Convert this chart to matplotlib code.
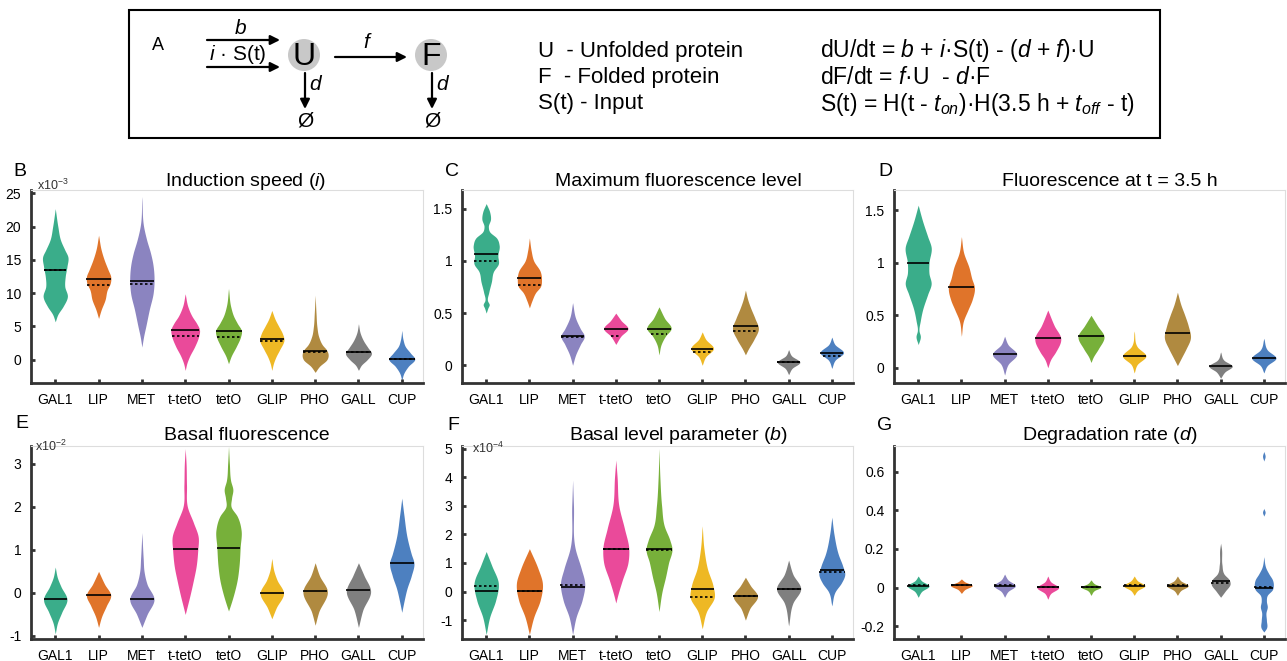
import numpy as np
import matplotlib
matplotlib.use('Agg')
import matplotlib.pyplot as plt
from matplotlib.patches import Circle, Rectangle

plt.rcParams['font.family'] = ['Liberation Sans', 'DejaVu Sans']
plt.rcParams['mathtext.fontset'] = 'custom'
plt.rcParams['mathtext.rm'] = 'Liberation Sans'
plt.rcParams['mathtext.it'] = 'Liberation Sans:italic'

promoters = ['GAL1', 'LIP', 'MET', 't-tetO', 'tetO', 'GLIP', 'PHO', 'GALL', 'CUP']
colors = ['#3aad8a', '#e0742a', '#8b84c0', '#ea4a9a', '#77b03a',
          '#eeb824', '#b08a40', '#7f7f7f', '#4d80c0']

# violin outlines: (value, half width) knots
induction_prof = [
    [(5.7, 0), (6.8, .06), (8, .18), (9.5, .28), (11, .22), (12.5, .23), (14, .27), (15.5, .29), (16.5, .22), (18, .12), (20, .06), (22.7, 0)],
    [(6.2, 0), (7.5, .06), (9, .15), (10.5, .2), (11.5, .27), (12.5, .28), (13.5, .22), (15, .13), (16.5, .06), (18.7, 0)],
    [(1.9, 0), (3.5, .04), (5, .09), (7.5, .17), (10, .26), (12.5, .28), (14.5, .25), (16, .2), (18, .11), (20, .04), (24.5, 0)],
    [(-1.6, 0), (-0.5, .04), (0.5, .1), (2, .22), (3.5, .31), (4.5, .33), (5.5, .26), (6.5, .16), (8, .06), (9.9, 0)],
    [(-0.6, 0), (0.5, .06), (2, .18), (3.5, .28), (4.3, .3), (5.5, .2), (6.5, .12), (8, .05), (10.7, 0)],
    [(-1.6, 0), (-0.5, .04), (0.5, .1), (1.5, .18), (3, .28), (4, .24), (5, .16), (6, .08), (7.4, 0)],
    [(-1.9, 0), (-1, .1), (0, .27), (0.8, .3), (1.5, .26), (2.2, .17), (3.5, .08), (5, .04), (7, .02), (9.7, 0)],
    [(-1.6, 0), (-0.8, .07), (0, .2), (1, .3), (1.8, .22), (2.8, .12), (4, .04), (5.4, 0)],
    [(-3.1, 0), (-2, .05), (-1, .15), (0.1, .3), (1, .2), (2, .08), (3, .03), (4.4, 0)],
]
induction_mean = [13.5, 12.1, 11.8, 4.5, 4.3, 3.1, 1.3, 1.2, 0.1]
induction_median = [13.5, 11.3, 11.4, 3.6, 3.4, 2.8, 1.1, 1.1, 0.1]

maxfl_prof = [
    [(0.5, 0), (0.55, .04), (0.58, .07), (0.62, .03), (0.7, .06), (0.8, .12), (0.9, .17), (0.97, .28), (1.05, .27), (1.15, .3), (1.22, .24), (1.28, .08), (1.33, .05), (1.4, .1), (1.47, .08), (1.55, 0)],
    [(0.55, 0), (0.62, .06), (0.7, .15), (0.75, .25), (0.82, .28), (0.9, .25), (1.0, .1), (1.1, .04), (1.22, 0)],
    [(0.0, 0), (0.1, .07), (0.2, .18), (0.28, .27), (0.35, .18), (0.45, .07), (0.6, 0)],
    [(0.2, 0), (0.28, .12), (0.35, .28), (0.43, .12), (0.5, 0)],
    [(0.1, 0), (0.2, .05), (0.28, .15), (0.35, .28), (0.45, .13), (0.56, 0)],
    [(0.0, 0), (0.08, .08), (0.16, .26), (0.25, .08), (0.32, 0)],
    [(0.1, 0), (0.15, .06), (0.25, .2), (0.35, .3), (0.45, .22), (0.55, .12), (0.62, .06), (0.72, 0)],
    [(-0.09, 0), (-0.03, .08), (0.03, .26), (0.09, .07), (0.15, 0)],
    [(-0.03, 0), (0.05, .08), (0.12, .27), (0.2, .07), (0.27, 0)],
]
maxfl_mean = [1.07, 0.84, 0.28, 0.35, 0.35, 0.16, 0.38, 0.03, 0.12]
maxfl_median = [1.0, 0.77, 0.27, 0.28, 0.3, 0.13, 0.33, 0.03, 0.09]

fl35_prof = [
    [(0.22, 0), (0.3, .05), (0.35, .02), (0.45, .05), (0.55, .1), (0.7, .22), (0.8, .3), (0.9, .25), (1.0, .25), (1.15, .3), (1.25, .22), (1.4, .1), (1.55, 0)],
    [(0.3, 0), (0.45, .05), (0.55, .15), (0.65, .25), (0.77, .3), (0.85, .24), (0.95, .18), (1.1, .05), (1.25, 0)],
    [(-0.07, 0), (0.03, .08), (0.13, .28), (0.22, .08), (0.3, 0)],
    [(0.0, 0), (0.08, .07), (0.15, .18), (0.28, .3), (0.4, .15), (0.55, 0)],
    [(0.05, 0), (0.1, .05), (0.18, .17), (0.3, .3), (0.4, .15), (0.5, 0)],
    [(-0.05, 0), (0.03, .07), (0.11, .27), (0.2, .07), (0.35, 0)],
    [(0.02, 0), (0.1, .1), (0.18, .2), (0.28, .3), (0.4, .25), (0.5, .17), (0.6, .08), (0.72, 0)],
    [(-0.1, 0), (-0.04, .1), (0.015, .27), (0.07, .08), (0.15, 0)],
    [(-0.05, 0), (0.02, .08), (0.09, .28), (0.17, .08), (0.28, 0)],
]
fl35_mean = [1.0, 0.77, 0.13, 0.28, 0.3, 0.11, 0.33, 0.015, 0.09]
fl35_median = [None] * 9

basalfl_prof = [
    [(-0.95, 0), (-0.7, .05), (-0.45, .15), (-0.15, .27), (0.15, .13), (0.35, .05), (0.6, 0)],
    [(-0.8, 0), (-0.55, .07), (-0.3, .18), (-0.05, .28), (0.2, .14), (0.5, 0)],
    [(-0.8, 0), (-0.5, .12), (-0.15, .28), (0.2, .12), (0.5, .05), (0.8, .03), (1.4, 0)],
    [(-0.5, 0), (-0.3, .05), (-0.1, .1), (0.3, .19), (0.6, .25), (1.0, .29), (1.3, .3), (1.63, .19), (2.0, .05), (2.5, .03), (3.0, .02), (3.35, 0)],
    [(-0.42, 0), (-0.3, .04), (0, .13), (0.3, .2), (0.6, .24), (1.07, .27), (1.46, .29), (1.78, .2), (2.0, .06), (2.2, .07), (2.4, .1), (2.6, .05), (3.0, .02), (3.4, 0)],
    [(-0.6, 0), (-0.35, .1), (0.0, .27), (0.3, .12), (0.5, .05), (0.8, 0)],
    [(-0.75, 0), (-0.45, .08), (0.05, .28), (0.4, .1), (0.7, 0)],
    [(-0.8, 0), (-0.4, .1), (0.05, .28), (0.4, .13), (0.7, 0)],
    [(-0.45, 0), (-0.2, .05), (0.1, .12), (0.4, .22), (0.7, .28), (0.9, .22), (1.3, .12), (1.8, .05), (2.2, 0)],
]
basalfl_mean = [-0.15, -0.06, -0.15, 1.03, 1.05, 0.0, 0.04, 0.07, 0.7]
basalfl_median = [None] * 9

basalpar_prof = [
    [(-1.5, 0), (-0.9, .08), (-0.3, .22), (0.3, .28), (0.9, .13), (1.4, 0)],
    [(-1.5, 0), (-0.9, .1), (-0.3, .25), (0.3, .3), (0.8, .2), (1.5, 0)],
    [(-1.5, 0), (-0.9, .08), (-0.3, .22), (0.3, .28), (0.8, .2), (1.5, .06), (3, .02), (3.9, 0)],
    [(-0.4, 0), (-0.1, .05), (0.4, .15), (1.0, .28), (1.5, .3), (2.2, .2), (3, .07), (4, .03), (4.6, 0)],
    [(-0.7, 0), (0, .07), (0.5, .15), (1.0, .22), (1.5, .3), (1.8, .25), (2.3, .12), (3, .06), (4, .02), (5, 0)],
    [(-1.3, 0), (-0.7, .1), (-0.2, .28), (0.2, .25), (0.8, .12), (1.5, .04), (2.3, 0)],
    [(-1.0, 0), (-0.6, .1), (-0.15, .28), (0.2, .12), (0.5, 0)],
    [(-1.2, 0), (-0.4, .1), (0.1, .28), (0.6, .1), (1.1, 0)],
    [(-0.5, 0), (0, .08), (0.3, .22), (0.6, .3), (0.9, .25), (1.3, .15), (2, .05), (2.6, 0)],
]
basalpar_mean = [0.02, 0.02, 0.15, 1.5, 1.5, 0.1, -0.17, 0.1, 0.75]
basalpar_median = [0.18, 0.02, 0.22, 1.5, 1.45, -0.2, -0.17, 0.1, 0.67]

degr_prof = [
    [(-0.05, 0), (-0.02, .08), (0.01, .25), (0.035, .08), (0.06, 0)],
    [(-0.03, 0), (-0.01, .08), (0.012, .25), (0.03, .08), (0.045, 0)],
    [(-0.05, 0), (-0.02, .08), (0.01, .25), (0.04, .08), (0.07, 0)],
    [(-0.06, 0), (-0.03, .07), (0.0, .25), (0.03, .07), (0.06, 0)],
    [(-0.04, 0), (-0.015, .08), (0.003, .23), (0.02, .08), (0.04, 0)],
    [(-0.04, 0), (-0.015, .08), (0.01, .25), (0.035, .08), (0.06, 0)],
    [(-0.04, 0), (-0.015, .08), (0.01, .25), (0.035, .08), (0.06, 0)],
    [(-0.05, 0), (-0.02, .1), (0.02, .22), (0.04, .2), (0.07, .08), (0.12, .03), (0.2, .02), (0.23, 0)],
    [(-0.23, 0), (-0.21, .06), (-0.17, .06), (-0.13, .05), (-0.1, .08), (-0.07, .06), (-0.04, .08), (-0.01, .2), (0.01, .22), (0.04, .2), (0.07, .12), (0.1, .05), (0.16, 0), (0.37, 0), (0.39, .03), (0.41, 0), (0.655, 0), (0.68, .03), (0.705, 0)],
]
degr_mean = [0.01, 0.012, 0.01, 0.002, 0.003, 0.01, 0.01, 0.035, 0.0]
degr_median = [0.012, 0.012, 0.015, 0.002, 0.003, 0.012, 0.012, 0.022, 0.005]

W, H = 1287, 661


def outline(prof, n=500):
    """Smooth (cubic Hermite) outline through the knots."""
    ky = np.array([p[0] for p in prof], dtype=float)
    kw = np.array([p[1] for p in prof], dtype=float)
    m = np.gradient(kw, ky)
    yy = np.linspace(ky[0], ky[-1], n)
    k = np.clip(np.searchsorted(ky, yy, side='right') - 1, 0, len(ky) - 2)
    h = ky[k + 1] - ky[k]
    t = (yy - ky[k]) / h
    ww = ((2 * t**3 - 3 * t**2 + 1) * kw[k] + (t**3 - 2 * t**2 + t) * h * m[k]
          + (-2 * t**3 + 3 * t**2) * kw[k + 1] + (t**3 - t**2) * h * m[k + 1])
    return yy, np.clip(ww, 0, None)


def draw_violin(ax, x, prof, color, mean, median):
    yy, ww = outline(prof)
    ax.fill_betweenx(yy, x - ww, x + ww, color=color, lw=0)
    if mean is not None:
        h = np.interp(mean, yy, ww)
        ax.plot([x - h, x + h], [mean, mean], color='k', lw=1.2, solid_capstyle='butt')
    if median is not None:
        h = np.interp(median, yy, ww)
        ax.plot([x - h, x + h], [median, median], color='k', lw=1.2,
                ls=(0, (1.5, 1.5)))


def px_axes(fig, left, top, right, bottom):
    return fig.add_axes([left / W, 1 - bottom / H, (right - left) / W, (bottom - top) / H])


fig = plt.figure(figsize=(W / 100, H / 100), dpi=100)

# overlay in pixel coordinates for the scheme and labels
ov = fig.add_axes([0, 0, 1, 1])
ov.set_xlim(0, W)
ov.set_ylim(H, 0)
ov.axis('off')
ov.patch.set_alpha(0)

ov.add_patch(Rectangle((129, 10), 1031, 128, fill=False, lw=1.5, ec='k'))
ov.text(158, 45, 'A', fontsize=13, ha='center', va='center')
arr = dict(arrowstyle='-|>', lw=1.6, color='k', mutation_scale=14, shrinkA=0, shrinkB=0)
ov.annotate('', xy=(280, 40), xytext=(207, 40), arrowprops=arr)
ov.annotate('', xy=(280, 67), xytext=(207, 67), arrowprops=arr)
ov.text(240, 28, '$b$', fontsize=15, ha='center', va='center')
ov.text(238, 54, '$i$ · S(t)', fontsize=15, ha='center', va='center')
for cx, lab in [(304, 'U'), (431, 'F')]:
    ov.add_patch(Circle((cx, 55), 16, color='#c8c8c8', lw=0))
    ov.text(cx, 57, lab, fontsize=23, ha='center', va='center')
    ov.annotate('', xy=(cx + 1, 109), xytext=(cx + 1, 73), arrowprops=arr)
    ov.text(cx + 12, 84, '$d$', fontsize=15, ha='center', va='center')
    ov.text(cx + 1, 121, 'Ø', fontsize=15, ha='center', va='center')
ov.annotate('', xy=(407, 57), xytext=(335, 57), arrowprops=arr)
ov.text(368, 43, '$f$', fontsize=15, ha='center', va='center')

legend_rows = ['U  - Unfolded protein', 'F  - Folded protein', 'S(t) - Input']
equation_rows = ['dU/dt = $b$ + $i$·S(t) - ($d$ + $f$)·U',
                 'dF/dt = $f$·U  - $d$·F',
                 'S(t) = H(t - $t_{on}$)·H(3.5 h + $t_{off}$ - t)']
for k, (l, e) in enumerate(zip(legend_rows, equation_rows)):
    ov.text(538, 51 + 26.5 * k, l, fontsize=16, ha='left', va='center')
    ov.text(820, 51 + 26.5 * k, e, fontsize=16.5, ha='left', va='center')

panels = [
    ('B', 'Induction speed ($i$)', induction_prof, induction_mean, induction_median,
     (-3.5, 25.5), [0, 5, 10, 15, 20, 25], 'x10$^{-3}$', (31, 190, 423, 383), (246, 182), (13, 171), (37, 185)),
    ('C', 'Maximum fluorescence level', maxfl_prof, maxfl_mean, maxfl_median,
     (-0.17, 1.68), [0, 0.5, 1, 1.5], None, (462, 190, 853, 383), (678, 182), (445, 171), None),
    ('D', 'Fluorescence at t = 3.5 h', fl35_prof, fl35_mean, fl35_median,
     (-0.146, 1.695), [0, 0.5, 1, 1.5], None, (894, 190, 1285, 383), (1110, 182), (878, 171), None),
    ('E', 'Basal fluorescence', basalfl_prof, basalfl_mean, basalfl_median,
     (-1.07, 3.41), [-1, 0, 1, 2, 3], 'x10$^{-2}$', (31, 446, 423, 639), (247, 436), (15, 423), (35, 446)),
    ('F', 'Basal level parameter ($b$)', basalpar_prof, basalpar_mean, basalpar_median,
     (-1.66, 5.09), [-1, 0, 1, 2, 3, 4, 5], 'x10$^{-4}$', (462, 446, 853, 639), (678, 436), (447, 425), (472, 448)),
    ('G', 'Degradation rate ($d$)', degr_prof, degr_mean, degr_median,
     (-0.266, 0.733), [-0.2, 0, 0.2, 0.4, 0.6], None, (894, 446, 1285, 639), (1110, 436), (877, 425), None),
]

xs = np.arange(1, len(promoters) + 1)
for letter, title, prof, means, medians, ylim, yticks, mult, box, tpos, lpos, mpos in panels:
    ax = px_axes(fig, *box)
    for x, p, c, m, md in zip(xs, prof, colors, means, medians):
        draw_violin(ax, x, p, c, m, md)
    ax.set_xlim(0.44, 9.49)
    ax.set_ylim(*ylim)
    ax.set_xticks(xs)
    ax.set_xticklabels(promoters)
    ax.set_yticks(yticks)
    ax.set_yticklabels(['{:g}'.format(v) for v in yticks])
    ax.tick_params(direction='in', length=3, width=2, color='#333333',
                   labelsize=10, pad=7)
    for s in ['left', 'bottom']:
        ax.spines[s].set_linewidth(2)
        ax.spines[s].set_color('#333333')
    for s in ['top', 'right']:
        ax.spines[s].set_linewidth(0.8)
        ax.spines[s].set_color('#dddddd')
    ov.text(tpos[0], tpos[1], title, fontsize=14, ha='center', va='center')
    ov.text(lpos[0], lpos[1], letter, fontsize=14, ha='left', va='center')
    if mult:
        ov.text(mpos[0], mpos[1], mult, fontsize=9, ha='left', va='center', color='#333333')

# keep the overlay on top so the scheme text is not hidden
ov.set_zorder(10)

fig.savefig('out.png', dpi=100)
